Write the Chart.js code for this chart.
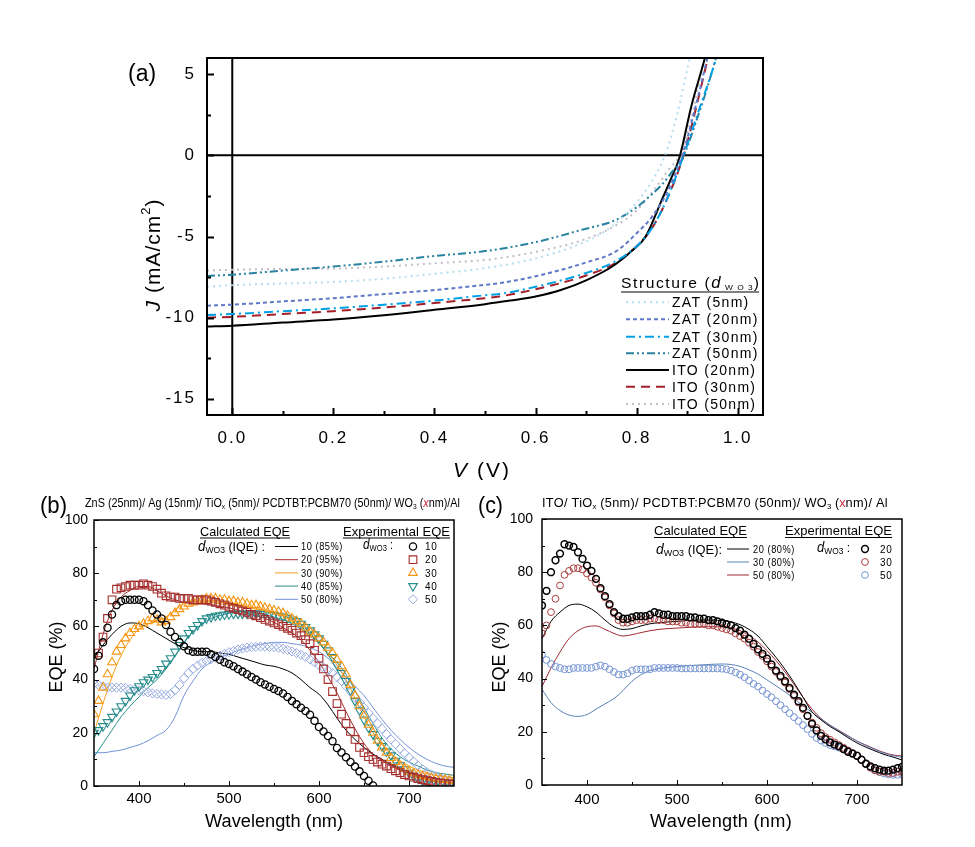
<!DOCTYPE html>
<html><head><meta charset="utf-8">
<script src="https://cdn.jsdelivr.net/npm/chart.js@4/dist/chart.umd.min.js"></script>
<style>
html,body{margin:0;padding:0;background:#fff;}
body{width:975px;height:847px;position:relative;overflow:hidden;}
.box{position:absolute;}
</style></head>
<body>
<div class="box" style="left:0;top:0;width:975px;height:480px"><canvas id="ca"></canvas></div>
<div class="box" style="left:0;top:480px;width:470px;height:367px"><canvas id="cb"></canvas></div>
<div class="box" style="left:470px;top:480px;width:505px;height:367px"><canvas id="cc"></canvas></div>
<script>
// ---------------- DATA: panel (a) J-V curves ----------------
const V_ZAT5  = [-0.05,0,0.1,0.2,0.3,0.4,0.5,0.6,0.7,0.75,0.8,0.83,0.856,0.88,0.905];
const J_ZAT5  = [-8.09,-8.0,-7.9,-7.8,-7.6,-7.3,-6.95,-6.35,-5.3,-4.4,-2.9,-1.6,0,2.5,6];
const V_ZAT20 = [-0.05,0,0.1,0.2,0.3,0.4,0.5,0.528,0.6,0.7,0.76,0.8,0.83,0.86,0.89,0.915,0.94];
const J_ZAT20 = [-9.26,-9.2,-9.0,-8.8,-8.55,-8.3,-7.98,-7.88,-7.45,-6.6,-5.9,-4.8,-3.8,-2.3,0,2.8,6];
const V_ZAT30 = [-0.05,0,0.1,0.2,0.3,0.4,0.5,0.528,0.6,0.7,0.76,0.8,0.83,0.86,0.893,0.92,0.94,0.958];
const J_ZAT30 = [-9.84,-9.78,-9.6,-9.43,-9.2,-8.95,-8.62,-8.54,-8.1,-7.25,-6.5,-5.6,-4.5,-2.7,0,2.5,4.3,6];
const V_ZAT50 = [-0.05,0,0.1,0.2,0.3,0.4,0.5,0.6,0.69,0.757,0.8,0.823,0.85,0.868,0.893,0.92,0.94,0.957];
const J_ZAT50 = [-7.43,-7.35,-7.1,-6.85,-6.55,-6.2,-5.9,-5.35,-4.6,-4.0,-3.2,-2.6,-1.8,-1.1,0,2.3,4.2,6];
const V_ITO20 = [-0.05,0,0.1,0.2,0.3,0.4,0.5,0.55,0.6,0.65,0.7,0.754,0.79,0.817,0.849,0.87,0.885,0.908,0.935,0.945];
const J_ITO20 = [-10.55,-10.5,-10.3,-10.12,-9.85,-9.52,-9.17,-8.95,-8.7,-8.3,-7.7,-6.8,-5.9,-5.05,-2.8,-1.3,-0.1,3.0,6,7.3];
const V_ITO30 = [-0.05,0,0.1,0.2,0.3,0.4,0.5,0.528,0.6,0.7,0.76,0.8,0.83,0.86,0.893,0.915,0.935,0.945];
const J_ITO30 = [-10.0,-9.95,-9.78,-9.6,-9.38,-9.1,-8.8,-8.7,-8.25,-7.4,-6.6,-5.6,-4.5,-2.7,0,2.6,5.2,6.5];
const V_ITO50 = [-0.05,0,0.1,0.2,0.3,0.4,0.5,0.528,0.6,0.7,0.76,0.8,0.84,0.865,0.885,0.91,0.93];
const J_ITO50 = [-7.1,-7.05,-7.0,-6.98,-6.85,-6.65,-6.45,-6.34,-5.95,-5.15,-4.3,-3.4,-1.9,-0.8,0,2.5,5.5];
const A_LABELS = ['ZAT (5nm)','ZAT (20nm)','ZAT (30nm)','ZAT (50nm)','ITO (20nm)','ITO (30nm)','ITO (50nm)'];
const A_XTICKS = [0,0.2,0.4,0.6,0.8,1.0];
const A_XMINOR = [0.1,0.3,0.5,0.7,0.9];
const A_YTICKS = [-15,-10,-5,0,5];
const A_YMINOR = [-12.5,-7.5,-2.5,2.5];

// ---------------- DATA: wavelengths ----------------
const WL10 = [350,360,370,380,390,400,410,420,430,440,450,460,470,480,490,500,510,520,530,540,550,560,570,580,590,600,610,620,630,640,650,660,670,680,690,700,710,720,730,740,750];
const WL5 = [350,355,360,365,370,375,380,385,390,395,400,405,410,415,420,425,430,435,440,445,450,455,460,465,470,475,480,485,490,495,500,505,510,515,520,525,530,535,540,545,550,555,560,565,570,575,580,585,590,595,600,605,610,615,620,625,630,635,640,645,650,655,660,665,670,675,680,685,690,695,700,705,710,715,720,725,730,735,740,745,750];
const EQE_TICKS = [0,20,40,60,80,100];
const EQE_MINOR = [10,30,50,70,90];
const WL_TICKS = [400,500,600,700];
const WL_MINOR = [450,550,650];

// ---------------- DATA: panel (b) ----------------
const B_CALC10 = [48,53,57,60,61.3,61,59.5,57.5,55.5,53.5,52,51,50.5,50.5,50,49.5,48.5,47.5,46.5,45.5,45,44,42.5,40,37,34.5,30.5,25.5,21,17.5,14.5,12,10,8,6.5,5,3.8,2.8,2,1.5,1.2];
const B_CALC20 = [44,57,66,71,73.5,75,75,73.5,71.5,70,69,68.5,68.5,68,67.5,67,66,65,64,63,61.5,59.5,57.5,55,51,46.5,41,35,28,21.5,16,12,9.5,7.5,6,5,4,3.5,3,2.5,2.5];
const B_CALC30 = [20,31,41,49,55,59,61,62,63.5,66,68.5,69.5,69.5,69,68.5,68,67.5,67,66.5,66,65,64,62.5,60.5,57.5,54,50,45.5,40,33,26,20,15.5,12,9.5,7.5,6,5,4,3.5,3];
const B_CALC40 = [11,16,21,26,30,33.5,37,40,44,49,54,58,61,63,64,65,65.5,65.5,65,64.5,63.5,62.5,61,59,56.5,53.5,50,46.5,42,36,29.5,23.5,18,14,11,9,7.5,6,5,4.5,4];
const B_CALC50 = [12.5,12.5,13,13.5,14.5,15.5,17,19,21,26,34,39.5,44,46.5,48.5,49.5,51,52,53,53.5,54,54,53.5,53,52,50.5,48,44.5,41,37.5,34,29.5,25,21,17.5,14.5,12,10,8.5,7.5,7];
const B_EXP10 = [44,49,54,59.5,64.5,68,69.5,70,70,70,70,69.5,68,66,64.5,63,60.5,58,56,54,52.5,51,50.5,50.5,50.5,50.5,49.5,48.5,47.5,46.5,45.9,45,44,43,42,41,40,39,38.2,37.3,36.5,35.7,34.8,33.5,32,30.7,29.4,28.2,26.8,24.5,22.2,20.5,18.8,16.8,14.3,12.6,10.8,9,7.3,5.5,3.8,2,0.2];
const B_EXP20 = [null,50,56,63,70,74,74.5,75,75.5,75.5,75.5,76,75.5,75,74,72.5,71.5,71,71,70.5,70.5,70.5,70,70,70,70,69.5,69,68.5,68,67.3,66.8,66.3,65.8,65.3,64.5,64,63.3,62.6,62,61.3,60.7,60,59.3,58.5,57.5,56.5,55,53.5,51,48,44,40,35.5,31,27,23.5,20.5,17.5,14.5,12.5,11,10,9,8.2,7.5,6.5,5.7,5,4.3,3.8,3.3,2.8,2.4,2,1.7,1.4,1.1,0.9,0.7,0.6];
const B_EXP30 = [27,32,37,42,46.5,50.5,53,55.5,57.5,59,60,61,62,63,62.5,61.5,62,63.5,65,66.5,67.5,68.5,69,69.5,70,70.5,70.5,70.5,70,70,69.5,69.5,69,69,68.5,68,68,67.5,67,66.5,66,65.5,65,64,63,62,61,59.5,58,57,55.5,54,52,50,47.5,45,42,38,34,30,26.5,23,20,17,14.5,12.5,10.5,9,7.5,6.5,5.5,4.8,4.2,3.8,3.4,3,2.7,2.5,2.3,2.1,2];
const B_EXP40 = [20,21,22.5,24,26,28,30,32,34,36,37.5,39,40,41,42.5,44,46,48,50.5,53,55.5,57.5,59,60.5,62,63,63.5,64,64.2,64.5,64.6,64.8,64.8,64.8,64.8,64.8,64.8,64.8,64.7,64.5,64.3,64,63.7,63.2,62.6,62,61,59.8,58.5,57,55.5,53.5,51,48.5,45.5,42.5,39.5,36,32,28.5,25,22,19.5,17,15,13,11.5,9.5,7.8,6.3,5,3.8,2.8,2,1.5,1,0.8,0.6,0.5,0.4,0.3];
const B_EXP50 = [38.5,38,37.5,37,37,37,37,36.8,36.5,36.2,36,35.6,35.2,34.8,34.6,34.4,34.2,34.6,36,38,40.5,42.5,44,45.3,46.3,47,47.7,48.3,49,49.7,50.3,50.8,51.3,51.7,52,52.2,52.3,52.4,52.4,52.3,52.2,52,51.6,51.1,50.6,50,49.3,48.5,47.6,46.5,45.5,44.5,43.5,42.5,41,39.5,37.5,35.5,33.5,31.5,29.5,27.5,25.5,23.5,21.5,19.5,17.5,15.8,14,12.3,10.8,9.2,7.7,6.3,5.2,4.3,3.6,3,2.5,2.1,1.8];
const B_CALC_LABELS = ['10 (85%)','20 (95%)','30 (90%)','40 (85%)','50 (80%)'];
const B_EXP_LABELS = ['10','20','30','40','50'];

// ---------------- DATA: panel (c) ----------------
const C_CALC20 = [55,61.5,65,67.5,68,67,65,62,59.5,58.5,58.8,59.8,60.6,61,61.3,61.5,61.8,62,62,62,61.8,61.3,60.3,58.5,56,52,48,43.5,38.5,33,27.5,24.5,22,20,17.8,15.8,14.2,12.8,11.5,10.5,9.4];
const C_CALC30 = [36,31,28,26.3,25.8,26.5,28.5,30.5,32.5,35.5,39,41.5,43,43.8,44.2,44.5,44.8,45,45.2,45.4,45.5,45.3,44.6,43.3,41.7,39.5,37.3,35,32.5,29.8,27.3,24.8,22.5,20.3,18.3,16.5,14.8,13.3,12,11,10.4];
const C_CALC50 = [37,44,50,55,58,59.5,59.8,58.5,57,56,56.5,57.3,58,58.5,58.8,59,59.2,59.4,59.5,59.5,59.4,59,58,56.3,53.8,50.5,46.8,42.5,37.8,33,28.5,25,22.5,20.5,18.5,16.5,15,13.5,12.2,11.3,10.9];
const C_EXP20 = [67.5,73,80,84.5,87,90.5,90,89.5,87.5,85,82.5,80.5,77.5,74,71,68,65,63.5,62.5,62.5,63,63.5,63.5,63.5,64,65,64.5,64,64,63.5,63.5,63.5,63.5,63,63,62.5,62.5,62,62,61.5,61,60.5,60,59,58,56.5,55,53,51,49.3,47.5,45.3,43,41,39,36.5,34,31.5,29,26,23,20.5,18.5,17.2,16,15.2,14.5,13.5,12.5,11.8,11,9.5,8,7,6.3,5.8,5.4,5.4,5.8,6.3,6.8];
const C_EXP30 = [57,60,65,70,75,79,80.5,81.5,81.5,81,79.5,78,76,73.5,70.5,67.5,64.5,62,61,61,61.5,62,62,62,62.5,62.5,62,62,61.5,61.5,61.5,61,61,60.5,60.5,60.5,60.5,60,60,59.5,59,58.5,58,57,56,55,53.5,52,50,48.5,46.5,44.5,42.5,40.5,38.5,36,33.5,31,28.5,26,23.5,21.5,19.5,18,17,16,15,14,13,12,11,9.5,8,6.5,5.5,5,5,4.5,4.5,5,5];
const C_EXP50 = [49,47,45.5,44.5,44,43.5,43.5,44,44,44,44,44,44.5,45,44.5,43.5,42.5,41.5,41.5,42,43,43.5,43.5,43.5,43.5,44,44,44,44,44,44,43.8,43.8,43.8,43.8,43.8,43.8,43.8,43.8,43.8,43.7,43.5,43,42.3,41.5,40.5,39.3,38,37,35.5,34.2,33,31.5,30,28.5,27,25.5,24,22.5,21,19.2,17.7,16.7,15.8,15,14.5,14,13.4,12.7,12,11,9.5,7.8,6.5,5.5,4.8,4.3,4,3.8,3.8,4];
const C_CALC_LABELS = ['20 (80%)','30 (80%)','50 (80%)'];
const C_EXP_LABELS = ['20','30','50'];

// ---------------- helpers ----------------
const FF = '"Liberation Sans", Arial, Helvetica, sans-serif';
const F = (size, style) => (style ? style + ' ' : '') + size + 'px ' + FF;
function pts(xs, ys){ const out=[]; for(let i=0;i<ys.length;i++){ if(ys[i]!==null) out.push({x:xs[i], y:ys[i]}); } return out; }
function measureRuns(ctx, runs){ let w=0; for(const r of runs){ ctx.font=r.f; ctx.letterSpacing=(r.ls||0)+'px'; w+=ctx.measureText(r.t).width; } return w; }
function drawRuns(ctx, runs, o){
  ctx.save();
  ctx.textAlign='left'; ctx.textBaseline='alphabetic';
  const nat = measureRuns(ctx, runs);
  const sx = o.fit ? o.fit/nat : 1;
  ctx.translate(o.x, o.y);
  if (o.rot) ctx.rotate(o.rot);
  if (o.align==='center') ctx.translate(-nat*sx/2, 0);
  ctx.scale(sx, 1);
  let x=0;
  for (const r of runs){
    ctx.font=r.f; ctx.letterSpacing=(r.ls||0)+'px'; ctx.fillStyle=r.c||'#000';
    ctx.fillText(r.t, x, (r.dy||0)+(o.base||0));
    x += ctx.measureText(r.t).width;
  }
  if (o.ul!=null){ ctx.beginPath(); ctx.strokeStyle='#000'; ctx.lineWidth=1; ctx.moveTo(0,o.ul); ctx.lineTo(nat-(runs[runs.length-1].ls||0),o.ul); ctx.stroke(); }
  ctx.restore();
}
function marker(ctx, ds, x, y){
  ctx.save();
  ctx.fillStyle='rgba(0,0,0,0)';
  ctx.strokeStyle=ds.pointBorderColor; ctx.lineWidth=ds.pointBorderWidth;
  try {
    Chart.helpers.drawPoint(ctx, {pointStyle:ds.pointStyle, rotation:ds.pointRotation||0, radius:ds.pointRadius, borderWidth:ds.pointBorderWidth}, x, y);
  } catch(e){ ctx.beginPath(); ctx.arc(x,y,ds.pointRadius,0,Math.PI*2); ctx.stroke(); }
  ctx.restore();
}
function sample(ctx, ds, x0, x1, y){
  ctx.save(); ctx.beginPath(); ctx.strokeStyle=ds.borderColor; ctx.lineWidth=ds.borderWidth;
  ctx.setLineDash(ds.borderDash||[]); ctx.moveTo(x0,y); ctx.lineTo(x1,y); ctx.stroke(); ctx.restore();
}
function frameAndTicks(chart, o){
  const ctx=chart.ctx, a=chart.chartArea, xs=chart.scales.x, ys=chart.scales.y;
  ctx.save();
  ctx.strokeStyle='#000';
  ctx.lineWidth=o.tickW;
  ctx.beginPath();
  for (const v of o.xt){ const p=Math.round(xs.getPixelForValue(v))+0.5; ctx.moveTo(p,a.bottom); ctx.lineTo(p,a.bottom-o.major); }
  for (const v of o.xm){ const p=Math.round(xs.getPixelForValue(v))+0.5; ctx.moveTo(p,a.bottom); ctx.lineTo(p,a.bottom-o.minor); }
  for (const v of o.yt){ const p=Math.round(ys.getPixelForValue(v))+0.5; ctx.moveTo(a.left,p); ctx.lineTo(a.left+o.major,p); }
  for (const v of o.ym){ const p=Math.round(ys.getPixelForValue(v))+0.5; ctx.moveTo(a.left,p); ctx.lineTo(a.left+o.minor,p); }
  ctx.stroke();
  ctx.lineWidth=o.frameW;
  ctx.strokeRect(a.left, a.top, a.right-a.left, a.bottom-a.top);
  ctx.restore();
}
function baseOptions(o){
  return {
    responsive:true, maintainAspectRatio:false, animation:false, devicePixelRatio:1,
    layout:{padding:o.pad},
    plugins:{legend:{display:false}, tooltip:{enabled:false}},
    elements:{point:{radius:0}, line:{cubicInterpolationMode:'monotone'}},
    scales:{
      x:{type:'linear', min:o.xmin, max:o.xmax, grid:{display:false, drawTicks:false}, border:{display:false},
         afterBuildTicks:s=>{ s.ticks=o.xt.map(v=>({value:v})); },
         afterFit:s=>{ s.height=o.xh; },
         ticks:{color:'#000', font:{family:FF, size:o.xfs}, padding:o.xpad, autoSkip:false, maxRotation:0, minRotation:0, callback:o.xcb}},
      y:{type:'linear', min:o.ymin, max:o.ymax, grid:{display:false, drawTicks:false}, border:{display:false},
         afterBuildTicks:s=>{ s.ticks=o.yt.map(v=>({value:v})); },
         afterFit:s=>{ s.width=o.yw; },
         ticks:{color:'#000', font:{family:FF, size:o.yfs}, padding:o.ypad, autoSkip:false, callback:v=>String(v)}}
    }
  };
}

// ---------------- chart (a) ----------------
const aStyles = [
  {c:'rgb(180,222,238)', d:[2,4], w:2},
  {c:'rgb(95,120,200)', d:[4,3], w:2},
  {c:'rgb(0,160,230)', d:[9,4,2,4], w:2},
  {c:'rgb(40,130,160)', d:[8,3,2,3,2,3], w:2},
  {c:'#000000', d:[], w:2},
  {c:'rgb(165,30,40)', d:[9,6], w:2},
  {c:'rgb(195,190,200)', d:[2,4], w:2}
];
const aData = [[V_ZAT5,J_ZAT5],[V_ZAT20,J_ZAT20],[V_ZAT30,J_ZAT30],[V_ZAT50,J_ZAT50],[V_ITO20,J_ITO20],[V_ITO30,J_ITO30],[V_ITO50,J_ITO50]];
const aDatasets = aData.map((d,i)=>({label:A_LABELS[i], data:pts(d[0],d[1]), borderColor:aStyles[i].c, borderDash:aStyles[i].d, borderWidth:aStyles[i].w, pointRadius:0, fill:false}));

const decorA = {
  id:'decorA',
  beforeDraw(chart){ chart.ctx.letterSpacing='2px'; },
  beforeDatasetsDraw(chart){
    const ctx=chart.ctx, a=chart.chartArea, xs=chart.scales.x, ys=chart.scales.y;
    ctx.save(); ctx.strokeStyle='#000'; ctx.lineWidth=2; ctx.beginPath();
    const px=xs.getPixelForValue(0), py=ys.getPixelForValue(0);
    ctx.moveTo(px,a.top); ctx.lineTo(px,a.bottom); ctx.moveTo(a.left,py); ctx.lineTo(a.right,py); ctx.stroke(); ctx.restore();
  },
  afterDatasetsDraw(chart){ frameAndTicks(chart,{xt:A_XTICKS,xm:A_XMINOR,yt:A_YTICKS,ym:A_YMINOR,major:7,minor:4,tickW:2,frameW:2}); },
  afterDraw(chart){
    const ctx=chart.ctx;
    drawRuns(ctx,[{t:'(a)',f:F(23)}],{x:128,y:81});
    drawRuns(ctx,[{t:'J',f:F(21,'italic'),ls:1},{t:' (mA/cm',f:F(21),ls:1},{t:'2',f:F(13),dy:-10,ls:1},{t:')',f:F(21),ls:1}],{x:152,y:255,rot:-Math.PI/2,align:'center',base:7.5});
    drawRuns(ctx,[{t:'V',f:F(21,'italic'),ls:2},{t:' (V)',f:F(21),ls:2}],{x:482,y:477,align:'center'});
    // legend
    drawRuns(ctx,[{t:'Structure (',f:F(15),ls:1.5},{t:'d',f:F(16,'italic'),ls:1},{t:' W O 3',f:F(8),dy:2,ls:1},{t:')',f:F(15),ls:1}],{x:621,y:288,fit:139,ul:4});
    const rows=[302.3,319.3,336.7,353.3,370,386.7,404];
    chart.data.datasets.forEach((ds,i)=>{
      sample(ctx,ds,626,669,rows[i]);
      drawRuns(ctx,[{t:ds.label,f:F(14),ls:1.3}],{x:672,y:rows[i]+5});
    });
  }
};
new Chart(document.getElementById('ca'),{
  type:'line', data:{datasets:aDatasets},
  options:baseOptions({pad:{left:0,top:58,right:212,bottom:0}, xmin:-0.05,xmax:1.05,ymin:-16,ymax:6,
    xt:A_XTICKS, yt:A_YTICKS, xh:65, yw:207, xfs:17, yfs:17, xpad:13, ypad:11, xcb:v=>Number(v).toFixed(1)}),
  plugins:[decorA]
});

// ---------------- chart (b) ----------------
const bCol = ['#000000','rgb(165,45,45)','rgb(245,160,30)','rgb(40,140,140)','rgb(115,145,215)'];
const bMk = [
  {s:'circle', r:3.6, rot:0, w:1.3, c:'#000000'},
  {s:'rect', r:5.4, rot:0, w:1.1, c:'rgb(165,45,45)'},
  {s:'triangle', r:5, rot:0, w:1.1, c:'rgb(245,150,20)'},
  {s:'triangle', r:5, rot:180, w:1.1, c:'rgb(40,140,140)'},
  {s:'rectRot', r:4.6, rot:0, w:1, c:'rgb(150,170,225)'}
];
const bCalc = [B_CALC10,B_CALC20,B_CALC30,B_CALC40,B_CALC50];
const bExp = [B_EXP10,B_EXP20,B_EXP30,B_EXP40,B_EXP50];
const bDatasets = [];
bExp.forEach((ys,i)=>bDatasets.push({label:'exp '+B_EXP_LABELS[i], role:'exp', idx:i, data:pts(WL5,ys), showLine:false,
  pointStyle:bMk[i].s, pointRadius:bMk[i].r, pointRotation:bMk[i].rot, pointBorderWidth:bMk[i].w, pointBorderColor:bMk[i].c, pointBackgroundColor:'rgba(0,0,0,0)', borderColor:bMk[i].c}));
bCalc.forEach((ys,i)=>bDatasets.push({label:'calc '+B_CALC_LABELS[i], role:'calc', idx:i, data:pts(WL10,ys), borderColor:bCol[i], borderWidth:1, pointRadius:0, fill:false}));

function eqeLegend(ctx, chart, L){
  drawRuns(ctx,[{t:'Calculated EQE',f:F(13)}],{x:L.calcX,y:L.headY,fit:L.calcW,ul:2.5});
  drawRuns(ctx,[{t:'Experimental EQE',f:F(13)}],{x:L.expX,y:L.headY,fit:L.expW,ul:2.5});
  drawRuns(ctx,[{t:'d',f:F(14,'italic')},{t:'WO3',f:F(9),dy:2},{t:L.iqeTxt,f:F(13)}],{x:L.dX,y:L.rows[0]+4.5,fit:L.dW});
  drawRuns(ctx,[{t:'d',f:F(14,'italic')},{t:'WO3',f:F(9),dy:2},{t:' :',f:F(13)}],{x:L.d2X,y:L.rows[0]+2.5,fit:L.d2W});
  const ds=chart.data.datasets;
  ds.filter(d=>d.role==='calc').forEach((d,i)=>{
    sample(ctx,d,L.lx0,L.lx1,L.rows[i]);
    drawRuns(ctx,[{t:L.calcLabels[i],f:F(10),ls:0.6}],{x:L.tx,y:L.rows[i]+3.7,fit:42});
  });
  ds.filter(d=>d.role==='exp').forEach((d,i)=>{
    marker(ctx,d,L.mx,L.rows[i]);
    drawRuns(ctx,[{t:L.expLabels[i],f:F(10),ls:0.6}],{x:L.mtx,y:L.rows[i]+3.7});
  });
}

const decorB = {
  id:'decorB',
  afterDatasetsDraw(chart){ frameAndTicks(chart,{xt:WL_TICKS,xm:WL_MINOR,yt:EQE_TICKS,ym:EQE_MINOR,major:5,minor:3,tickW:1,frameW:1.5}); },
  afterDraw(chart){
    const ctx=chart.ctx;
    drawRuns(ctx,[{t:'(b)',f:F(24)}],{x:40,y:33,fit:27});
    drawRuns(ctx,[{t:'ZnS (25nm)/ Ag (15nm)/ TiO',f:F(13)},{t:'x',f:F(8),dy:2},{t:' (5nm)/ PCDTBT:PCBM70 (50nm)/ WO',f:F(13)},{t:'3',f:F(8),dy:2},{t:' (',f:F(13)},{t:'x',f:F(13,'italic'),c:'rgb(205,40,70)'},{t:'nm)/Al',f:F(13)}],{x:85,y:27,fit:375});
    drawRuns(ctx,[{t:'EQE (%)',f:F(18)}],{x:55,y:177,rot:-Math.PI/2,align:'center',base:6.5});
    drawRuns(ctx,[{t:'Wavelength (nm)',f:F(18)}],{x:274,y:346.5,align:'center',fit:138});
    eqeLegend(ctx,chart,{calcX:200,calcW:90,expX:343,expW:107,headY:55.5,dX:198,dW:67,iqeTxt:' (IQE) :',d2X:363,d2W:30,
      rows:[66.5,79.7,92.9,106.1,119.3],lx0:275,lx1:298,tx:301,mx:413,mtx:425,calcLabels:B_CALC_LABELS,expLabels:B_EXP_LABELS});
  }
};
new Chart(document.getElementById('cb'),{
  type:'line', data:{datasets:bDatasets},
  options:baseOptions({pad:{left:0,top:40,right:16,bottom:0}, xmin:350,xmax:750,ymin:0,ymax:100,
    xt:WL_TICKS, yt:EQE_TICKS, xh:61, yw:94, xfs:15, yfs:14, xpad:4, ypad:6, xcb:v=>String(v)}),
  plugins:[decorB]
});

// ---------------- chart (c) ----------------
const cLineCol = ['#000000','rgb(90,130,185)','rgb(160,40,50)'];
const cMkCol = ['#000000','rgb(170,60,60)','rgb(120,150,210)'];
const cMkW = [1.5,1,1];
const cCalc = [C_CALC20,C_CALC30,C_CALC50];
const cExp = [C_EXP20,C_EXP30,C_EXP50];
const cDatasets = [];
cExp.forEach((ys,i)=>cDatasets.push({label:'exp '+C_EXP_LABELS[i], role:'exp', idx:i, data:pts(WL5,ys), showLine:false,
  pointStyle:'circle', pointRadius:3.4, pointBorderWidth:cMkW[i], pointBorderColor:cMkCol[i], pointBackgroundColor:'rgba(0,0,0,0)', borderColor:cMkCol[i]}));
cCalc.forEach((ys,i)=>cDatasets.push({label:'calc '+C_CALC_LABELS[i], role:'calc', idx:i, data:pts(WL10,ys), borderColor:cLineCol[i], borderWidth:1, pointRadius:0, fill:false}));

const decorC = {
  id:'decorC',
  afterDatasetsDraw(chart){ frameAndTicks(chart,{xt:WL_TICKS,xm:WL_MINOR,yt:EQE_TICKS,ym:EQE_MINOR,major:5,minor:3,tickW:1,frameW:1.5}); },
  afterDraw(chart){
    const ctx=chart.ctx;
    drawRuns(ctx,[{t:'(c)',f:F(24)}],{x:8,y:33,fit:25});
    drawRuns(ctx,[{t:'ITO/ TiO',f:F(13),ls:0.3},{t:'x',f:F(8),dy:2},{t:' (5nm)/ PCDTBT:PCBM70 (50nm)/ WO',f:F(13),ls:0.3},{t:'3',f:F(8),dy:2},{t:' (',f:F(13)},{t:'x',f:F(13),c:'rgb(205,40,70)'},{t:'nm)/ Al',f:F(13),ls:0.3}],{x:72,y:27,fit:346});
    drawRuns(ctx,[{t:'EQE (%)',f:F(18)}],{x:28,y:177,rot:-Math.PI/2,align:'center',base:6.5});
    drawRuns(ctx,[{t:'Wavelength (nm)',f:F(18),ls:0.3}],{x:251,y:346.5,align:'center',fit:142});
    eqeLegend(ctx,chart,{calcX:184,calcW:93,expX:315,expW:107,headY:55,dX:186,dW:66,iqeTxt:' (IQE):',d2X:347,d2W:33,
      rows:[69,82,95],lx0:257,lx1:279,tx:283,mx:395,mtx:410,calcLabels:C_CALC_LABELS,expLabels:C_EXP_LABELS});
  }
};
new Chart(document.getElementById('cc'),{
  type:'line', data:{datasets:cDatasets},
  options:baseOptions({pad:{left:0,top:39,right:73,bottom:0}, xmin:350,xmax:750,ymin:0,ymax:100,
    xt:WL_TICKS, yt:EQE_TICKS, xh:62, yw:72, xfs:15, yfs:14, xpad:5.5, ypad:9, xcb:v=>String(v)}),
  plugins:[decorC]
});
</script>
</body></html>
